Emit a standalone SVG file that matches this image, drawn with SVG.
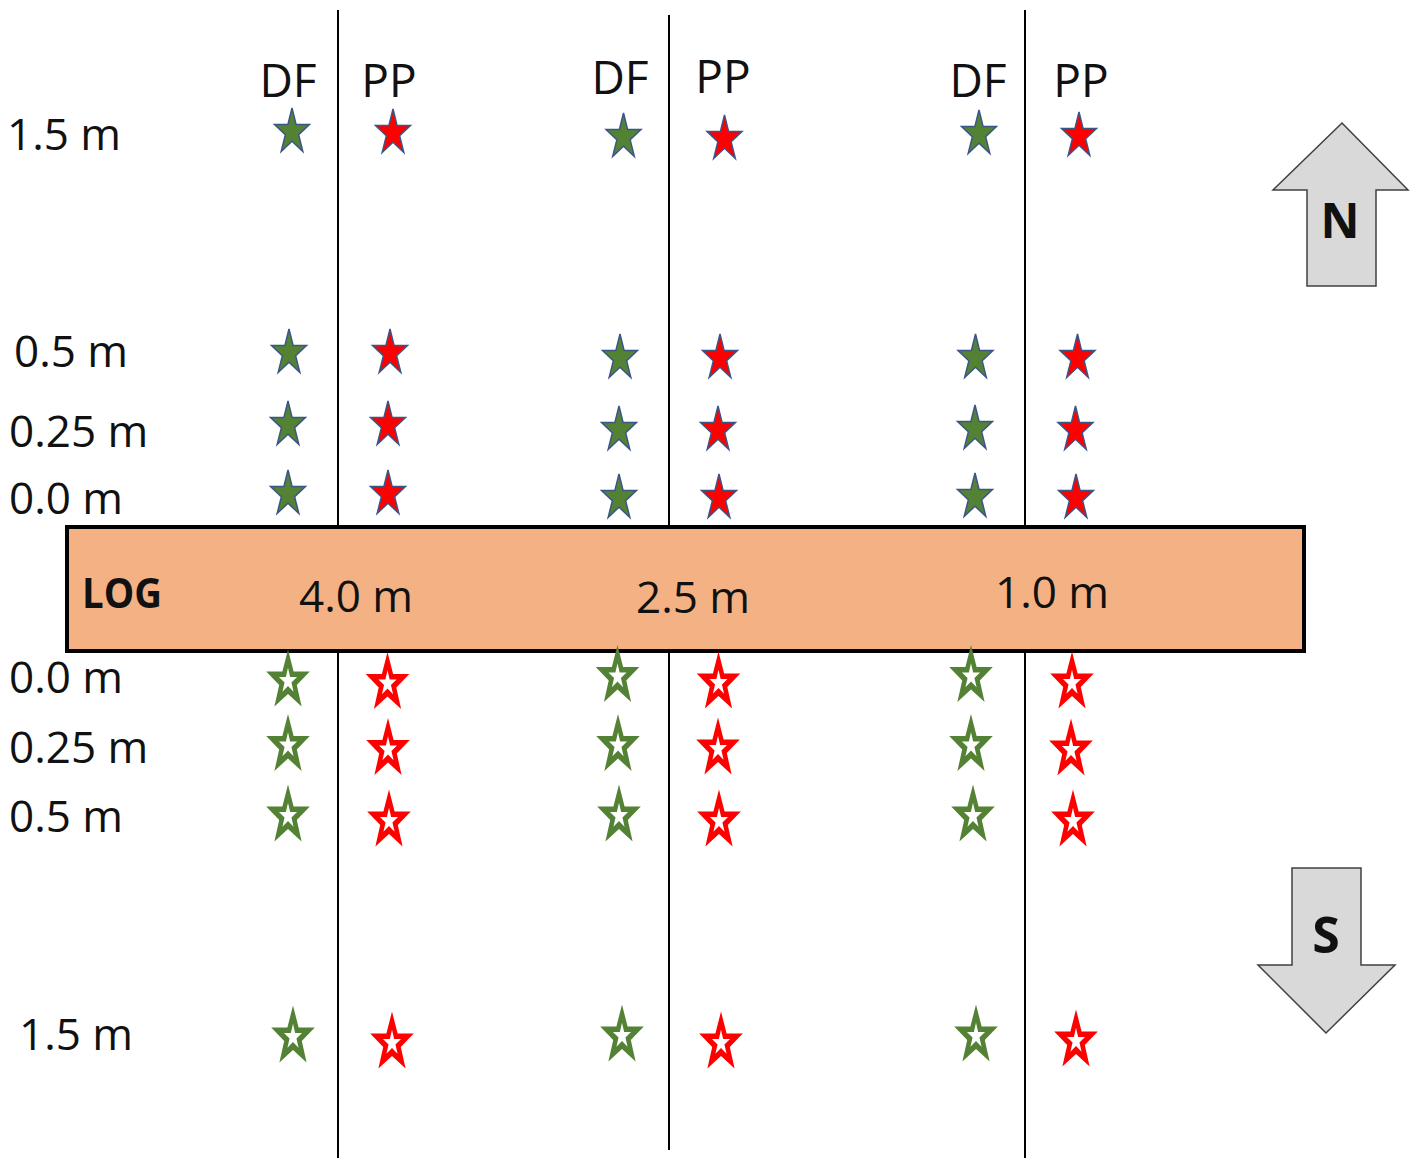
<svg xmlns="http://www.w3.org/2000/svg" xmlns:xlink="http://www.w3.org/1999/xlink" width="1418" height="1169" viewBox="0 0 1418 1169">
<style>
.lbl{font-family:"Open Sans","Liberation Sans",sans-serif;font-size:44px;fill:#111}
.hdr{font-family:"Open Sans","Liberation Sans",sans-serif;font-size:46px;fill:#111;text-anchor:middle}
.bold{font-family:"Open Sans","Liberation Sans",sans-serif;font-weight:bold;fill:#111}
.vline{stroke:#000;stroke-width:2;fill:none}
.log{fill:#F4B183;stroke:#000;stroke-width:4}
.arrow{fill:#D9D9D9;stroke:#404040;stroke-width:1.5;stroke-linejoin:miter}
.gf{fill:#548235;stroke:#3B5587;stroke-width:1.5}
.rf{fill:#FF0000;stroke:#3B5587;stroke-width:1.5}
.gh{fill:#548235}
.rh{fill:#FF0000}
.wh{fill:#FFFFFF}
</style>
<defs>
<path id="fs" d="M0,-24 L4.13,-7.42 L17.5,-7.42 L6.68,2.83 L10.82,19.42 L0,9.17 L-10.82,19.42 L-6.68,2.83 L-17.5,-7.42 L-4.13,-7.42 Z"/>
<path id="ho" d="M0,-31.5 L5.6,-9.5 L21.8,-9.5 L8.8,4 L13.6,25.5 L0,13 L-13.6,25.5 L-8.8,4 L-21.8,-9.5 L-5.6,-9.5 Z"/>
<path id="hi" d="M0,-13.2 L2.13,-4.09 L9.03,-4.09 L3.45,1.56 L5.58,10.7 L0,5.05 L-5.58,10.7 L-3.45,1.56 L-9.03,-4.09 L-2.13,-4.09 Z"/>
<g id="gstar"><use xlink:href="#ho" class="gh"/><use xlink:href="#hi" class="wh"/></g>
<g id="rstar"><use xlink:href="#ho" class="rh"/><use xlink:href="#hi" class="wh"/></g>
</defs>
<rect width="1418" height="1169" fill="#FFFFFF"/>

<g id="connectors">
<line class="vline" x1="338" y1="10" x2="338" y2="1158"/>
<line class="vline" x1="669" y1="15" x2="669" y2="1150"/>
<line class="vline" x1="1025" y1="10" x2="1025" y2="1158"/>
</g>

<g id="log">
<rect class="log" x="67" y="527" width="1237" height="124"/>
<text class="bold" x="82" y="608" font-size="42" textLength="80" lengthAdjust="spacingAndGlyphs">LOG</text>
<text class="lbl" x="299" y="612" font-size="45">4.0 m</text>
<text class="lbl" x="636" y="613" font-size="45">2.5 m</text>
<text class="lbl" x="995" y="608" font-size="45">1.0 m</text>
</g>

<g id="headers">
<text class="hdr" x="288" y="97">DF</text>
<text class="hdr" x="389" y="97">PP</text>
<text class="hdr" x="620" y="94">DF</text>
<text class="hdr" x="723" y="93">PP</text>
<text class="hdr" x="978" y="97">DF</text>
<text class="hdr" x="1081" y="97">PP</text>
</g>

<g id="distance-labels">
<text class="lbl" x="7" y="150">1.5 m</text>
<text class="lbl" x="14" y="367">0.5 m</text>
<text class="lbl" x="9" y="447">0.25 m</text>
<text class="lbl" x="9" y="514">0.0 m</text>
<text class="lbl" x="9" y="693">0.0 m</text>
<text class="lbl" x="9" y="763">0.25 m</text>
<text class="lbl" x="9" y="832">0.5 m</text>
<text class="lbl" x="19" y="1050">1.5 m</text>
</g>

<g id="north-stars">
<use xlink:href="#fs" class="gf" x="292" y="132"/>
<use xlink:href="#fs" class="rf" x="393" y="133"/>
<use xlink:href="#fs" class="gf" x="623.5" y="137"/>
<use xlink:href="#fs" class="rf" x="724.5" y="139"/>
<use xlink:href="#fs" class="gf" x="979" y="134"/>
<use xlink:href="#fs" class="rf" x="1079" y="136"/>

<use xlink:href="#fs" class="gf" x="289" y="353"/>
<use xlink:href="#fs" class="rf" x="390" y="353"/>
<use xlink:href="#fs" class="gf" x="620" y="358"/>
<use xlink:href="#fs" class="rf" x="720" y="358"/>
<use xlink:href="#fs" class="gf" x="975.5" y="358"/>
<use xlink:href="#fs" class="rf" x="1077.5" y="358"/>

<use xlink:href="#fs" class="gf" x="288" y="425"/>
<use xlink:href="#fs" class="rf" x="388" y="425"/>
<use xlink:href="#fs" class="gf" x="619" y="430"/>
<use xlink:href="#fs" class="rf" x="718" y="430"/>
<use xlink:href="#fs" class="gf" x="975" y="429"/>
<use xlink:href="#fs" class="rf" x="1075.5" y="430"/>

<use xlink:href="#fs" class="gf" x="288" y="494"/>
<use xlink:href="#fs" class="rf" x="388" y="494"/>
<use xlink:href="#fs" class="gf" x="619" y="498"/>
<use xlink:href="#fs" class="rf" x="719" y="498"/>
<use xlink:href="#fs" class="gf" x="975" y="497"/>
<use xlink:href="#fs" class="rf" x="1076" y="498"/>
</g>

<g id="south-stars">
<use xlink:href="#gstar" x="288" y="681"/>
<use xlink:href="#rstar" x="387.5" y="683.5"/>
<use xlink:href="#gstar" x="617.5" y="676.5"/>
<use xlink:href="#rstar" x="718.5" y="683"/>
<use xlink:href="#gstar" x="971" y="676.5"/>
<use xlink:href="#rstar" x="1072" y="683"/>

<use xlink:href="#gstar" x="288" y="745.5"/>
<use xlink:href="#rstar" x="388" y="749.5"/>
<use xlink:href="#gstar" x="618" y="745.5"/>
<use xlink:href="#rstar" x="718" y="749"/>
<use xlink:href="#gstar" x="971" y="745.5"/>
<use xlink:href="#rstar" x="1071" y="750"/>

<use xlink:href="#gstar" x="288" y="816"/>
<use xlink:href="#rstar" x="389" y="821"/>
<use xlink:href="#gstar" x="619" y="816"/>
<use xlink:href="#rstar" x="719" y="821"/>
<use xlink:href="#gstar" x="973" y="816"/>
<use xlink:href="#rstar" x="1073" y="821"/>

<use xlink:href="#gstar" x="293" y="1037"/>
<use xlink:href="#rstar" x="392" y="1043"/>
<use xlink:href="#gstar" x="622" y="1036"/>
<use xlink:href="#rstar" x="721" y="1043"/>
<use xlink:href="#gstar" x="976" y="1036"/>
<use xlink:href="#rstar" x="1076" y="1041"/>
</g>

<g id="north-arrow">
<path class="arrow" d="M1342,123 L1408,190 L1376,190 L1376,286 L1307,286 L1307,190 L1273,190 Z"/>
<text class="bold" x="1340" y="238" font-size="48" text-anchor="middle">N</text>
</g>

<g id="south-arrow">
<path class="arrow" d="M1292,868 L1361,868 L1361,965 L1395,965 L1326,1033 L1258,965 L1292,965 Z"/>
<text class="bold" x="1326" y="953" font-size="50" text-anchor="middle">S</text>
</g>
</svg>
